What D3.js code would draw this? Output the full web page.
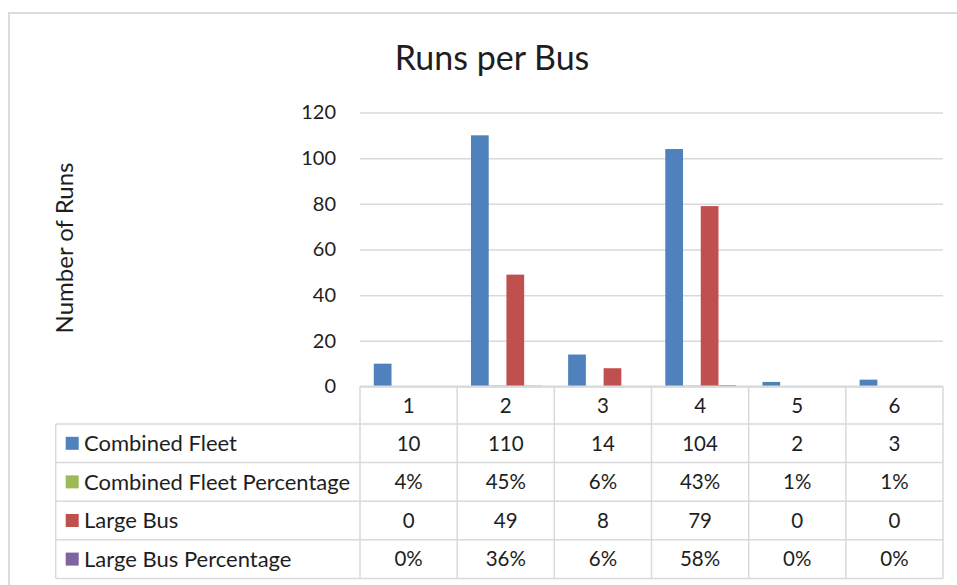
<!DOCTYPE html>
<html>
<head>
<meta charset="utf-8">
<script src="https://cdn.jsdelivr.net/npm/d3@7"></script>
<style>
  html, body { margin: 0; padding: 0; background: #fff; }
  svg { display: block; }
  text { font-family: Lato, "Open Sans", sans-serif; fill: #1e1e1e; }
</style>
</head>
<body>
<svg id="chart" width="957" height="585"></svg>
<script>
// ---- data ----
const categories = ["1", "2", "3", "4", "5", "6"];
const seriesNames = ["Combined Fleet", "Combined Fleet Percentage", "Large Bus", "Large Bus Percentage"];
const combinedFleet = [10, 110, 14, 104, 2, 3];
const combinedFleetPct = [0.04, 0.45, 0.06, 0.43, 0.01, 0.01];
const largeBus = [0, 49, 8, 79, 0, 0];
const largeBusPct = [0, 0.36, 0.06, 0.58, 0, 0];
const seriesColors = ["#4F81BD", "#9BBB59", "#C0504D", "#8064A2"];
const yTicks = [0, 20, 40, 60, 80, 100, 120];
const title = "Runs per Bus";
const yTitle = "Number of Runs";

const seriesValues = [combinedFleet, combinedFleetPct, largeBus, largeBusPct];
const isPct = [false, true, false, true];

// ---- layout ----
const svg = d3.select("#chart");
const plotL = 360, plotR = 943, plotT = 112.5, plotB = 386.5;
const tableL = 55.7;
const headerB = 424;
const rowH = 38.6;
const gridColor = "#d9d9d9";

// frame
svg.append("path")
  .attr("d", `M9,${585} V13 H${957}`)
  .attr("fill", "none").attr("stroke", "#dcdcdc").attr("stroke-width", 2);

const x0 = d3.scaleBand().domain(categories).range([plotL, plotR]).padding(0);
const bw = x0.bandwidth();
const x1 = d3.scaleBand().domain(seriesNames).range([bw * 0.142, bw * 0.872]).padding(0);
const y = d3.scaleLinear().domain([0, 120]).range([plotB, plotT]);

// gridlines + y axis
const yAxis = d3.axisLeft(y).tickValues(yTicks).tickSize(-(plotR - plotL)).tickPadding(24);
const gy = svg.append("g").attr("transform", `translate(${plotL},0)`).call(yAxis);
gy.select(".domain").remove();
gy.selectAll(".tick line").attr("stroke", gridColor).attr("stroke-width", 1.5);
gy.selectAll(".tick text")
  .style("font-family", "Lato, 'Open Sans', sans-serif")
  .style("font-size", "20px").attr("fill", "#1e1e1e");

// bars
const groups = svg.append("g").selectAll("g")
  .data(categories).join("g")
  .attr("transform", d => `translate(${x0(d)},0)`);
groups.selectAll("rect")
  .data((c, i) => seriesNames.map((s, k) => ({ s, v: seriesValues[k][i], color: seriesColors[k] })))
  .join("rect")
  .attr("x", d => x1(d.s))
  .attr("width", x1.bandwidth())
  .attr("y", d => y(d.v))
  .attr("height", d => plotB - y(d.v))
  .attr("fill", d => d.color);

// ---- data table ----
const tbl = svg.append("g");
const rowTops = seriesNames.map((s, k) => headerB + k * rowH);
const tableB = headerB + seriesNames.length * rowH;
const line = (x1_, y1_, x2_, y2_, w) => tbl.append("line")
  .attr("x1", x1_).attr("y1", y1_).attr("x2", x2_).attr("y2", y2_)
  .attr("stroke", gridColor).attr("stroke-width", w || 1.5);

// axis line / header top
line(plotL, plotB, plotR, plotB, 2);
// horizontal row lines
line(tableL, headerB, plotR, headerB);
rowTops.forEach((t, k) => line(tableL, t + rowH, plotR, t + rowH));
// verticals
line(tableL, headerB, tableL, tableB);
categories.forEach(c => line(x0(c), plotB, x0(c), tableB));
line(plotR, plotB, plotR, tableB);

// header labels
tbl.selectAll("text.cat").data(categories).join("text")
  .attr("class", "cat")
  .attr("x", d => x0(d) + bw / 2)
  .attr("y", (plotB + headerB) / 2)
  .attr("dy", "0.36em")
  .attr("text-anchor", "middle")
  .style("font-size", "20.5px")
  .text(d => d);

const fmtPct = d3.format(".0%");
seriesNames.forEach((s, k) => {
  const cy = rowTops[k] + rowH / 2;
  tbl.append("rect")
    .attr("x", 65.7).attr("y", cy - 6.5).attr("width", 13).attr("height", 13)
    .attr("fill", seriesColors[k]);
  tbl.append("text")
    .attr("x", 84).attr("y", cy).attr("dy", "0.36em")
    .style("font-size", "22px")
    .text(s);
  tbl.selectAll(null).data(categories).join("text")
    .attr("x", d => x0(d) + bw / 2)
    .attr("y", cy).attr("dy", "0.36em")
    .attr("text-anchor", "middle")
    .style("font-size", "20.5px")
    .text((d, i) => isPct[k] ? fmtPct(seriesValues[k][i]) : seriesValues[k][i]);
});

// title
svg.append("text")
  .attr("x", 492).attr("y", 70)
  .attr("text-anchor", "middle")
  .style("font-size", "34px")
  .text(title);

// y axis title
svg.append("text")
  .attr("transform", `translate(73,248) rotate(-90)`)
  .attr("text-anchor", "middle")
  .style("font-size", "24px")
  .text(yTitle);
</script>
</body>
</html>
